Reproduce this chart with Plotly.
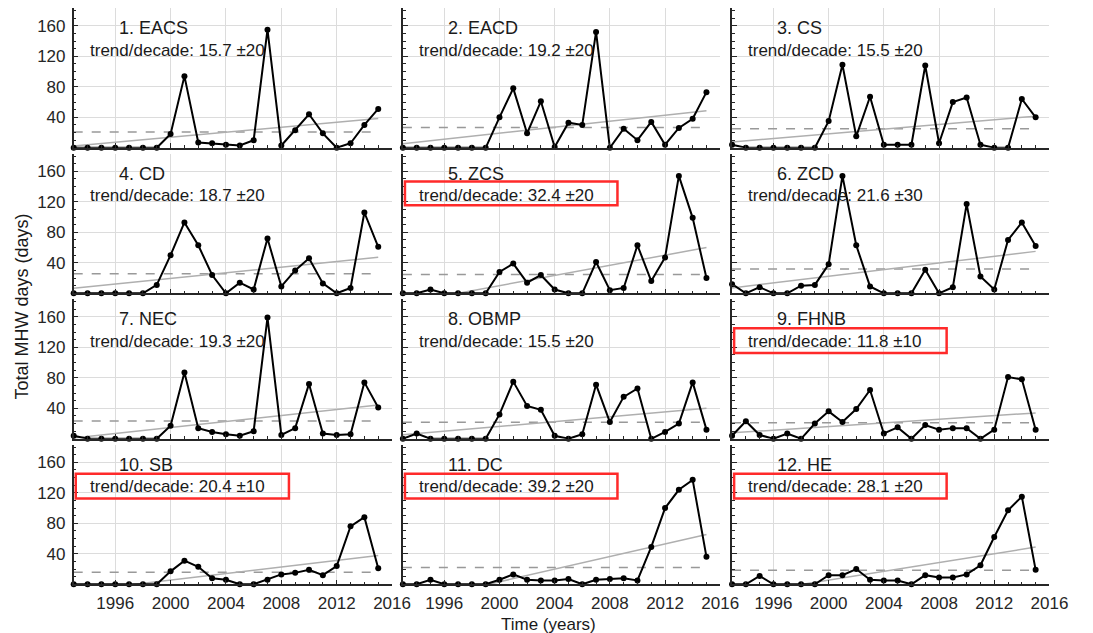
import plotly.graph_objects as go

years = list(range(1993, 2016))

panel_names = ["1. EACS", "2. EACD", "3. CS", "4. CD", "5. ZCS", "6. ZCD",
               "7. NEC", "8. OBMP", "9. FHNB", "10. SB", "11. DC", "12. HE"]
trend_rate = ["15.7", "19.2", "15.5", "18.7", "32.4", "21.6",
              "19.3", "15.5", "11.8", "20.4", "39.2", "28.1"]
trend_err = ["20", "20", "20", "20", "20", "30", "20", "20", "10", "10", "20", "20"]

eacs = [0, 0, 0, 0, 0, 0, 0, 18, 94, 7, 6, 4, 3, 10, 155, 3, 23, 44, 19, 0, 6, 30, 51]
eacd = [0, 0, 0, 0, 0, 0, 0, 40, 78, 19, 61, 1, 33, 30, 152, 0, 25, 10, 34, 4, 26, 38, 73]
cs = [4, 0, 0, 0, 0, 0, 0, 35, 109, 15, 67, 4, 4, 4, 108, 6, 60, 66, 4, 0, 0, 64, 40]
cd = [0, 0, 0, 0, 0, 0, 11, 50, 93, 63, 24, 0, 14, 5, 72, 9, 30, 46, 13, 0, 7, 106, 61]
zcs = [0, 0, 5, 0, 0, 0, 0, 28, 39, 14, 24, 5, 0, 0, 41, 4, 7, 63, 16, 47, 154, 99, 20]
zcd = [12, 0, 8, 0, 0, 10, 11, 38, 154, 63, 9, 0, 0, 0, 31, 0, 8, 117, 22, 5, 70, 93, 62]
nec = [4, 0, 0, 0, 0, 0, 0, 17, 87, 14, 9, 6, 4, 10, 159, 5, 14, 72, 7, 5, 6, 74, 41]
obmp = [0, 7, 0, 0, 0, 0, 0, 32, 75, 43, 38, 4, 0, 6, 71, 22, 55, 66, 0, 9, 20, 74, 12]
fhnb = [4, 23, 5, 0, 7, 0, 20, 36, 22, 39, 64, 7, 15, 0, 18, 12, 14, 14, 0, 12, 81, 78, 12]
sb = [0, 0, 0, 0, 0, 0, 0, 17, 31, 23, 8, 6, 0, 0, 6, 13, 15, 19, 12, 24, 76, 88, 21]
dc = [0, 0, 6, 0, 0, 0, 0, 6, 13, 6, 5, 5, 7, 0, 6, 7, 8, 5, 49, 100, 124, 137, 36]
he = [0, 0, 11, 0, 0, 0, 0, 12, 12, 20, 6, 5, 5, 0, 12, 9, 9, 13, 25, 62, 97, 115, 19]
series = [eacs, eacd, cs, cd, zcs, zcd, nec, obmp, fhnb, sb, dc, he]

# linear trend line values at 1993 and 2015
trend_start = [2.2, 5.3, 7.5, 6.5, -13.3, 7.0, 1.0, 5.2, 7.8, -9.5, -25.7, -14.7]
trend_end = [38.5, 48.6, 41.5, 47.4, 60.0, 55.0, 44.4, 40.0, 33.9, 37.9, 65.4, 48.8]
mean_level = [20.8, 26.5, 25.0, 25.7, 24.8, 31.8, 23.5, 21.8, 20.9, 15.7, 22.2, 18.3]

highlighted = [False, False, False, False, True, False, False, False, True, True, True, True]

xtick_vals = [1996, 2000, 2004, 2008, 2012, 2016]
ytick_vals = [40, 80, 120, 160]

W, H = 1093, 633
col_px = [(75, 399), (410, 733), (745, 1068)]
row_px = [(8.3, 147.8), (153.8, 293.3), (299.3, 438.8), (444.8, 584.3)]

FONT = "Liberation Sans, Arial, Helvetica, sans-serif"
fig = go.Figure()
layout = dict(
    width=W, height=H, margin=dict(l=0, r=0, t=0, b=0),
    paper_bgcolor="white", plot_bgcolor="white", showlegend=False,
    font=dict(family=FONT, size=17, color="#262626"),
)
shapes = []
annotations = []

for k in range(12):
    r, c = divmod(k, 3)
    ax = "" if k == 0 else str(k + 1)
    xa, ya = "x" + ax, "y" + ax
    x0p, x1p = col_px[c]
    t, b = row_px[r]
    layout["xaxis" + ax] = dict(
        domain=[x0p / W, x1p / W], anchor=ya, range=[1993, 2016],
        tickvals=xtick_vals, showticklabels=(r == 3), ticks="inside", ticklen=5,
        tickcolor="#262626", showgrid=True, gridcolor="#DCDCDC", gridwidth=1,
        showline=True, linecolor="#262626", linewidth=1.5, zeroline=False,
        minor=dict(dtick=1, tick0=1993, ticks="inside", ticklen=3, tickcolor="#262626", showgrid=False),
        tickfont=dict(size=17, color="#262626"), ticklabelstandoff=3,
    )
    layout["yaxis" + ax] = dict(
        domain=[1 - b / H, 1 - t / H], anchor=xa, range=[0, 183],
        tickvals=ytick_vals, showticklabels=(c == 0), ticks="inside", ticklen=5,
        tickcolor="#262626", showgrid=True, gridcolor="#DCDCDC", gridwidth=1,
        showline=True, linecolor="#262626", linewidth=1.5, zeroline=False,
        minor=dict(dtick=10, tick0=0, ticks="inside", ticklen=3, tickcolor="#262626", showgrid=False),
        tickfont=dict(size=17, color="#262626"), ticklabelstandoff=3,
    )
    # mean (dashed)
    fig.add_trace(go.Scatter(x=[years[0], years[-1]], y=[mean_level[k]] * 2, mode="lines",
                             line=dict(color="#999999", width=1.5, dash="dash"),
                             xaxis=xa, yaxis=ya, hoverinfo="skip"))
    # trend
    fig.add_trace(go.Scatter(x=[years[0], years[-1]], y=[trend_start[k], trend_end[k]], mode="lines",
                             line=dict(color="#AFAFAF", width=1.5),
                             xaxis=xa, yaxis=ya, hoverinfo="skip"))
    # data
    fig.add_trace(go.Scatter(x=years, y=series[k], mode="lines+markers",
                             line=dict(color="black", width=2),
                             marker=dict(color="black", size=6),
                             cliponaxis=False, xaxis=xa, yaxis=ya))
    annotations.append(dict(x=1996.1, y=157, xref=xa, yref=ya, text=panel_names[k],
                            showarrow=False, xanchor="left", yanchor="middle",
                            font=dict(size=18, color="#1a1a1a")))
    annotations.append(dict(x=1994.0, y=128, xref=xa, yref=ya,
                            text=f"trend/decade: {trend_rate[k]} \u00b1{trend_err[k]}",
                            showarrow=False, xanchor="left", yanchor="middle",
                            font=dict(size=17, color="#1a1a1a")))
    if highlighted[k]:
        yb, yt = (115.5, 146.5) if k == 4 else (112.5, 145.0)
        shapes.append(dict(type="rect", xref=xa, yref=ya, x0=1993.15, x1=2008.55, y0=yb, y1=yt,
                           line=dict(color="#FF2A2A", width=2.5), fillcolor="rgba(0,0,0,0)", layer="above"))

annotations.append(dict(x=558 / W, y=1 - 624 / H, xref="paper", yref="paper", text="Time (years)",
                        showarrow=False, xanchor="center", yanchor="middle",
                        font=dict(size=17, color="#1a1a1a")))
annotations.append(dict(x=22 / W, y=1 - 307 / H, xref="paper", yref="paper", text="Total MHW days (days)",
                        showarrow=False, textangle=-90, xanchor="center", yanchor="middle",
                        font=dict(size=18, color="#1a1a1a")))

layout["shapes"] = shapes
layout["annotations"] = annotations
fig.update_layout(**layout)
fig.write_html("out.html")
